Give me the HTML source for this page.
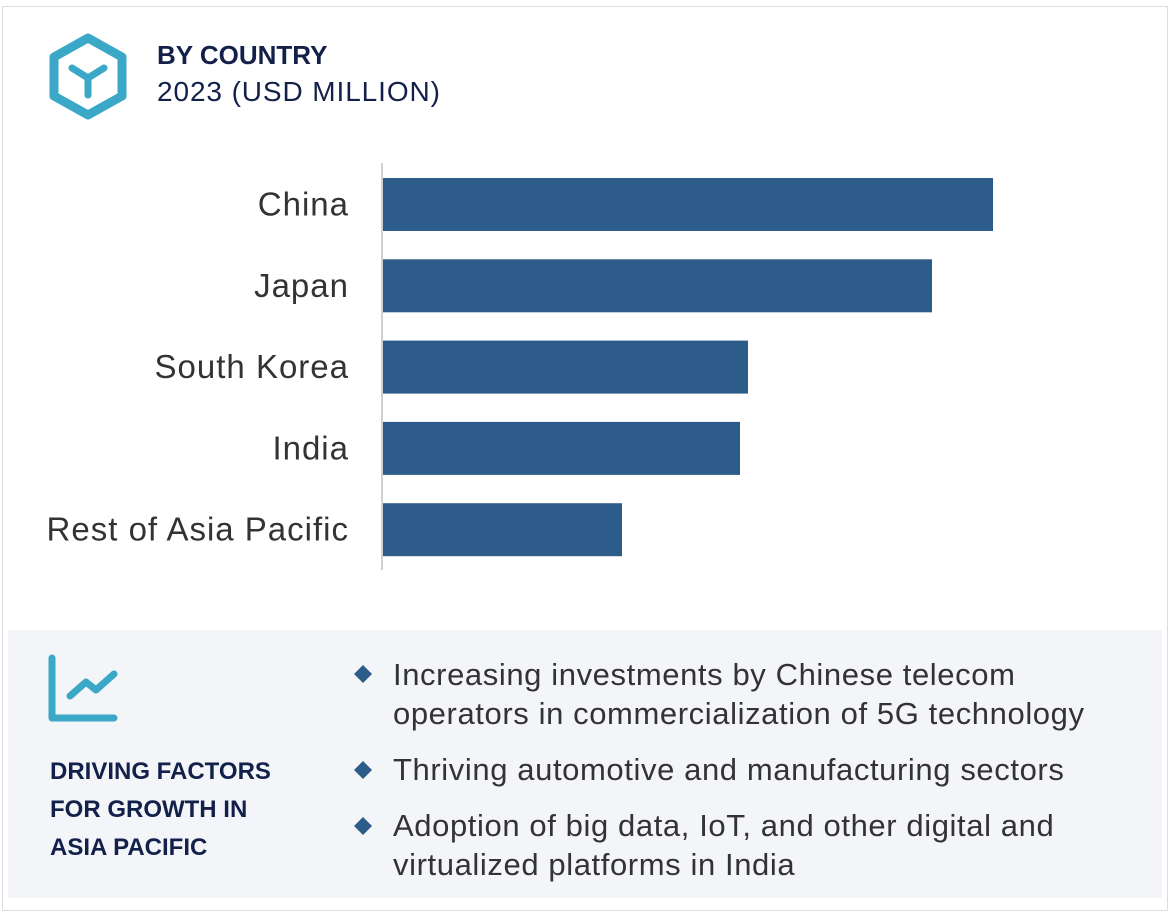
<!DOCTYPE html>
<html><head><meta charset="utf-8"><style>
body{margin:0;width:1170px;height:917px;background:#fff;font-family:"Liberation Sans",sans-serif;position:relative;overflow:hidden}
.abs{position:absolute}
</style></head><body>
<div class="abs" style="left:2px;top:6px;width:1164px;height:903px;border:1px solid #dcdde3"></div>
<svg class="abs" style="left:46px;top:32px" width="84" height="90" viewBox="0 0 84 90">
<polygon points="42,6 76,25 76,64 42,83 8,64 8,25" fill="none" stroke="#3aa8c6" stroke-width="9" stroke-linejoin="round"/>
<path d="M26,36 L42,46 L58,36 M42,46 L42,63" fill="none" stroke="#3aa8c6" stroke-width="7" stroke-linecap="round"/>
</svg>
<div class="abs" style="left:157px;top:40px;font-size:26px;font-weight:bold;color:#13214a">BY COUNTRY</div>
<div class="abs" style="left:157px;top:76px;font-size:28px;color:#13214a;letter-spacing:0.9px">2023 (USD MILLION)</div>
<svg class="abs" id="chart" style="left:0;top:0" width="1170" height="620"></svg>
<div class="abs" style="left:8px;top:630px;width:1154px;height:268px;background:#f3f5f9"></div>
<svg class="abs" style="left:46px;top:652px" width="76" height="72">
<path d="M6,6 L6,66 L68,66" fill="none" stroke="#3aa8c6" stroke-width="7" stroke-linecap="round" stroke-linejoin="round"/>
<path d="M24,44 L40,30 L50,38 L68,22" fill="none" stroke="#3aa8c6" stroke-width="7" stroke-linecap="round" stroke-linejoin="round"/>
</svg>
<div class="abs" style="left:50px;top:753px;font-size:24px;font-weight:bold;color:#13214a;line-height:38px">DRIVING FACTORS<br>FOR GROWTH IN<br>ASIA PACIFIC</div>
<div class="abs" style="left:393px;top:655px;font-size:31px;letter-spacing:0.6px;color:#333;line-height:39px">Increasing investments by Chinese telecom<br>operators in commercialization of 5G technology</div>
<div class="abs" style="left:393px;top:750px;font-size:31px;letter-spacing:0.6px;color:#333;line-height:39px">Thriving automotive and manufacturing sectors</div>
<div class="abs" style="left:393px;top:806px;font-size:31px;letter-spacing:0.6px;color:#333;line-height:39px">Adoption of big data, IoT, and other digital and<br>virtualized platforms in India</div>
<svg class="abs" style="left:350px;top:660px" width="30" height="180">
<polygon points="13,5 22,14 13,23 4,14" fill="#2d5b8a"/>
<polygon points="13,101 22,110 13,119 4,110" fill="#2d5b8a"/>
<polygon points="13,157 22,166 13,175 4,166" fill="#2d5b8a"/>
</svg>
<script>
const categories=["China","Japan","South Korea","India","Rest of Asia Pacific"];
const values=[610,549,365,357,239];
const svg=document.getElementById('chart');
const NS='http://www.w3.org/2000/svg';
const x0=382, maxV=700, maxW=700;
const xScale=v=>v/maxV*maxW;
const y0=178, step=81.3, bh=53;
const ax=document.createElementNS(NS,'line');
ax.setAttribute('x1',x0);ax.setAttribute('x2',x0);ax.setAttribute('y1',163);ax.setAttribute('y2',570);
ax.setAttribute('stroke','#d0d0d0');ax.setAttribute('stroke-width','2');


svg.appendChild(ax);
categories.forEach((c,i)=>{
  const y=y0+i*step;
  const r=document.createElementNS(NS,'rect');
  r.setAttribute('x',x0+1);r.setAttribute('y',y);r.setAttribute('width',xScale(values[i]));r.setAttribute('height',bh);
  r.setAttribute('fill','#2d5b8a');
  
  
  svg.appendChild(r);
  const t=document.createElementNS(NS,'text');
  t.setAttribute('x',349);t.setAttribute('y',y+bh/2+11);t.setAttribute('text-anchor','end');
  t.setAttribute('font-size','33');t.setAttribute('letter-spacing','1');t.setAttribute('fill','#333');t.setAttribute('font-family','Liberation Sans, sans-serif');
  t.textContent=c;
  
  
  svg.appendChild(t);
});
</script>
</body></html>
